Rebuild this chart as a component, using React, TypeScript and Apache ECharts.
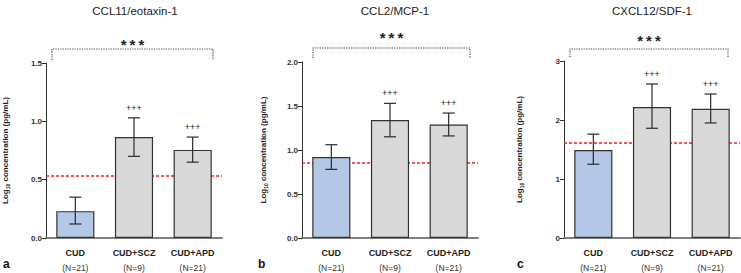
import React, { useEffect, useRef } from "react";
import * as echarts from "echarts";

const categories = ["CUD", "CUD+SCZ", "CUD+APD"];
const groupN = ["(N=21)", "(N=9)", "(N=21)"];
const titles = ["CCL11/eotaxin-1", "CCL2/MCP-1", "CXCL12/SDF-1"];
const panelLetters = ["a", "b", "c"];
const sigMarks = ["", "+++", "+++"];
const overallSig = "*\u2009*\u2009*";

const ccl11Mean = [0.23, 0.865, 0.755];
const ccl11Low = [0.12, 0.7, 0.65];
const ccl11High = [0.35, 1.03, 0.865];
const ccl11Ref = 0.525;

const mcp1Mean = [0.92, 1.34, 1.29];
const mcp1Low = [0.78, 1.15, 1.16];
const mcp1High = [1.06, 1.53, 1.42];
const mcp1Ref = 0.865;

const sdf1Mean = [1.49, 2.22, 2.19];
const sdf1Low = [1.25, 1.86, 1.95];
const sdf1High = [1.76, 2.61, 2.44];
const sdf1Ref = 1.61;

const axisMax = [1.5, 2.0, 3];
const axisInterval = [0.5, 0.5, 1];
const axisDecimals = [1, 1, 0];

const FONT = "Liberation Sans, Arial, sans-serif";
const BAR_COLORS = ["#b4c7e7", "#d9d9d9", "#d9d9d9"];

export default function App() {
  const ref = useRef<HTMLDivElement>(null);

  useEffect(() => {
    if (!ref.current) return;
    const chart = echarts.init(ref.current, null, { renderer: "svg" });

    const means = [ccl11Mean, mcp1Mean, sdf1Mean];
    const lows = [ccl11Low, mcp1Low, sdf1Low];
    const highs = [ccl11High, mcp1High, sdf1High];
    const refs = [ccl11Ref, mcp1Ref, sdf1Ref];

    const grids = [
      { left: 46, width: 176, top: 63, bottom: 35 },
      { left: 302, width: 176, top: 62, bottom: 35 },
      { left: 564, width: 176, top: 61, bottom: 35 },
    ];
    const nameGaps = [36, 34, 40];
    const titleX = [130, 390, 647];
    const letterX = [3, 258, 517];
    const brackets = [
      { x1: 52, x2: 213, y: 49, yEnd: 60, starY: 42 },
      { x1: 313, x2: 470, y: 48, yEnd: 58, starY: 35 },
      { x1: 570, x2: 728, y: 49, yEnd: 57, starY: 38 },
    ];

    const xAxis = grids.map((_, i) => ({
      type: "category",
      gridIndex: i,
      data: categories,
      axisLine: { lineStyle: { color: "#808080", width: 2 } },
      axisTick: { show: false },
      axisLabel: {
        interval: 0,
        margin: 7,
        formatter: (v: string, idx: number) => `{c|${v}}\n{n|${groupN[idx]}}`,
        rich: {
          c: { fontFamily: FONT, fontWeight: "bold", fontSize: 9, color: "#222", lineHeight: 15 },
          n: { fontFamily: FONT, fontSize: 8.5, color: "#333", lineHeight: 15 },
        },
      },
    }));

    const yAxis = grids.map((_, i) => ({
      type: "value",
      gridIndex: i,
      min: 0,
      max: axisMax[i],
      interval: axisInterval[i],
      splitLine: { show: false },
      axisLine: { show: true, lineStyle: { color: "#333", width: 1 } },
      axisTick: { show: true, length: 4, lineStyle: { color: "#333" } },
      axisLabel: {
        fontFamily: FONT,
        fontWeight: "bold",
        fontSize: 8,
        color: "#333",
        margin: 4,
        formatter: (v: number) => v.toFixed(axisDecimals[i]),
      },
      name: "{b|Log}{s|10}{b| concentration (pg/mL)}",
      nameLocation: "middle",
      nameGap: nameGaps[i],
      nameRotate: 90,
      nameTextStyle: {
        rich: {
          b: { fontFamily: FONT, fontWeight: "bold", fontSize: 8, color: "#222" },
          s: { fontFamily: FONT, fontWeight: "bold", fontSize: 5, color: "#222", verticalAlign: "bottom", padding: [4, 0, 0, 0] },
        },
      },
    }));

    const series: any[] = [];
    grids.forEach((_, i) => {
      series.push({
        type: "line",
        xAxisIndex: i,
        yAxisIndex: i,
        data: [],
        z: 1,
        markLine: {
          z: 1,
          silent: true,
          symbol: "none",
          label: { show: false },
          lineStyle: { color: "#e8202a", type: [3, 2], width: 1.5 },
          data: [{ yAxis: refs[i] }],
        },
      });
      series.push({
        type: "bar",
        xAxisIndex: i,
        yAxisIndex: i,
        barWidth: "65%",
        z: 3,
        data: means[i].map((v, k) => ({
          value: v,
          itemStyle: { color: BAR_COLORS[k], borderColor: "#333", borderWidth: 1.2 },
        })),
      });
      series.push({
        type: "custom",
        xAxisIndex: i,
        yAxisIndex: i,
        z: 4,
        clip: false,
        data: categories.map((_, k) => [k, lows[i][k], highs[i][k]]),
        renderItem: (params: any, api: any) => {
          const k = api.value(0);
          const lo = api.coord([k, api.value(1)]);
          const hi = api.coord([k, api.value(2)]);
          const hw = 6;
          const st = { stroke: "#2a2a2a", lineWidth: 1.2 };
          const children: any[] = [
            { type: "line", shape: { x1: lo[0], y1: lo[1], x2: hi[0], y2: hi[1] }, style: st },
            { type: "line", shape: { x1: lo[0] - hw, y1: lo[1], x2: lo[0] + hw, y2: lo[1] }, style: st },
            { type: "line", shape: { x1: hi[0] - hw, y1: hi[1], x2: hi[0] + hw, y2: hi[1] }, style: st },
          ];
          if (sigMarks[k]) {
            children.push({
              type: "text",
              style: {
                text: sigMarks[k],
                x: hi[0],
                y: hi[1] - 10,
                align: "center",
                verticalAlign: "middle",
                fontFamily: FONT,
                fontSize: 9,
                fill: "#222",
              },
            });
          }
          return { type: "group", children };
        },
      });
    });

    const graphic: any[] = [];
    brackets.forEach((b, i) => {
      graphic.push({
        type: "polyline",
        shape: { points: [[b.x1, b.yEnd], [b.x1, b.y], [b.x2, b.y], [b.x2, b.yEnd]] },
        style: { stroke: "#444", lineWidth: 1.2, lineDash: [1.2, 1.2], fill: "none" },
        silent: true,
      });
      graphic.push({
        type: "text",
        x: (b.x1 + b.x2) / 2,
        y: b.starY + 2,
        style: {
          text: overallSig,
          align: "center",
          verticalAlign: "middle",
          fontFamily: FONT,
          fontWeight: "bold",
          fontSize: 15,
          fill: "#222",
        },
      });
      graphic.push({
        type: "text",
        x: letterX[i],
        y: 264,
        style: {
          text: panelLetters[i],
          align: "left",
          verticalAlign: "middle",
          fontFamily: FONT,
          fontWeight: "bold",
          fontSize: 12,
          fill: "#111",
        },
      });
    });

    chart.setOption({
      animation: false,
      backgroundColor: "#fff",
      title: titles.map((t, i) => ({
        text: t,
        left: titleX[i],
        top: 0,
        textAlign: "center",
        textStyle: { fontFamily: FONT, fontWeight: "normal", fontSize: 11.5, color: "#222" },
      })),
      grid: grids,
      xAxis,
      yAxis,
      series,
      graphic,
    });

    return () => chart.dispose();
  }, []);

  return (
    <div
      ref={ref}
      style={{ position: "fixed", left: 0, top: 0, width: 741, height: 273, background: "#fff" }}
    />
  );
}
